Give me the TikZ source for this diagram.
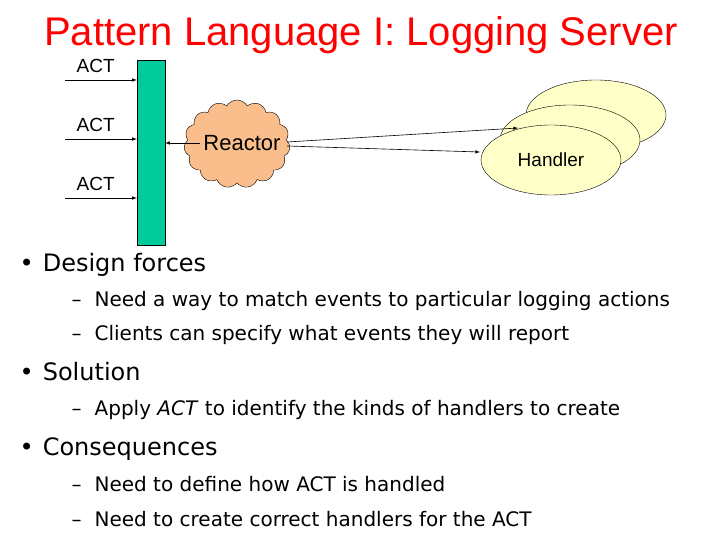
\documentclass[tikz,border=0pt]{standalone}
\usepackage{fontspec}
\setmainfont{Liberation Sans}
\newfontfamily\tahoma{DejaVu Sans}
\usetikzlibrary{shapes.symbols,shapes.geometric}
\definecolor{barteal}{RGB}{0,204,153}
\definecolor{cloudorange}{RGB}{250,190,140}
\definecolor{handleryellow}{RGB}{255,255,200}
\tikzset{
  act/.style={anchor=base west,font=\fontsize{19}{22}\selectfont},
  handler/.style={ellipse,draw,fill=handleryellow,minimum width=140pt,minimum height=70pt},
  bigitem/.style={anchor=base west,font=\tahoma\fontsize{24}{28}\selectfont},
  subitem/.style={anchor=base west,font=\tahoma\fontsize{20}{24}\selectfont},
}
\begin{document}
\begin{tikzpicture}[x=1pt,y=-1pt,>=latex,semithick]
  \useasboundingbox (0,0) rectangle (720,540);
  \node[font=\fontsize{40}{46}\selectfont,text=red] (title) at (361,35) {Pattern Language I: Logging Server};
  % demultiplexer bar
  \node[draw,thin,fill=barteal,minimum width=28pt,minimum height=185pt,inner sep=0pt] (bar) at (151,152.5) {};
  \foreach \y/\n in {80/a,139/b,198/c}{
    \coordinate (s\n) at (65,\y);
    \draw[->] (s\n) -- (bar.west |- s\n);
    \node[act] at (73,\y-7) {ACT};
  }
  % reactor
  \node[cloud,thin,cloud puffs=15,cloud puff arc=120,draw,fill=cloudorange,minimum width=106pt,minimum height=88pt,aspect=1.2] (reactor) at (237,144) {};
  \node[font=\fontsize{22}{26}\selectfont] (rlabel) at (242,143) {Reactor};
  \draw[->] (rlabel.west) -- (bar.east |- rlabel.west);
  % handlers
  \node[handler,thin] (h3) at (596,115) {};
  \node[handler,thin] (h2) at (570,140) {};
  \node[handler,thin] (h1) at (551,160) {\fontsize{19}{22}\selectfont Handler};
  \coordinate (t2) at (518,128);
  \coordinate (t1) at (480,152);
  \draw[->] (rlabel.east) ++(3,-1) coordinate (r1) -- (t2);
  \draw[->] (rlabel.east) ++(3,3) coordinate (r2) -- (t1);
  % text
  \node[bigitem] at (16,271) {\textbullet\hspace{9pt}Design forces};
  \node[subitem] at (68,306) {–\hspace{13pt}Need a way to match events to particular logging actions};
  \node[subitem] at (68,340) {–\hspace{13pt}Clients can specify what events they will report};
  \node[bigitem] at (16,380) {\textbullet\hspace{9pt}Solution};
  \node[subitem] at (68,415) {–\hspace{13pt}Apply \textit{ACT} to identify the kinds of handlers to create};
  \node[bigitem] at (16,455) {\textbullet\hspace{9pt}Consequences};
  \node[subitem] at (68,491) {–\hspace{13pt}Need to define how ACT is handled};
  \node[subitem] at (68,526) {–\hspace{13pt}Need to create correct handlers for the ACT};
\end{tikzpicture}
\end{document}
